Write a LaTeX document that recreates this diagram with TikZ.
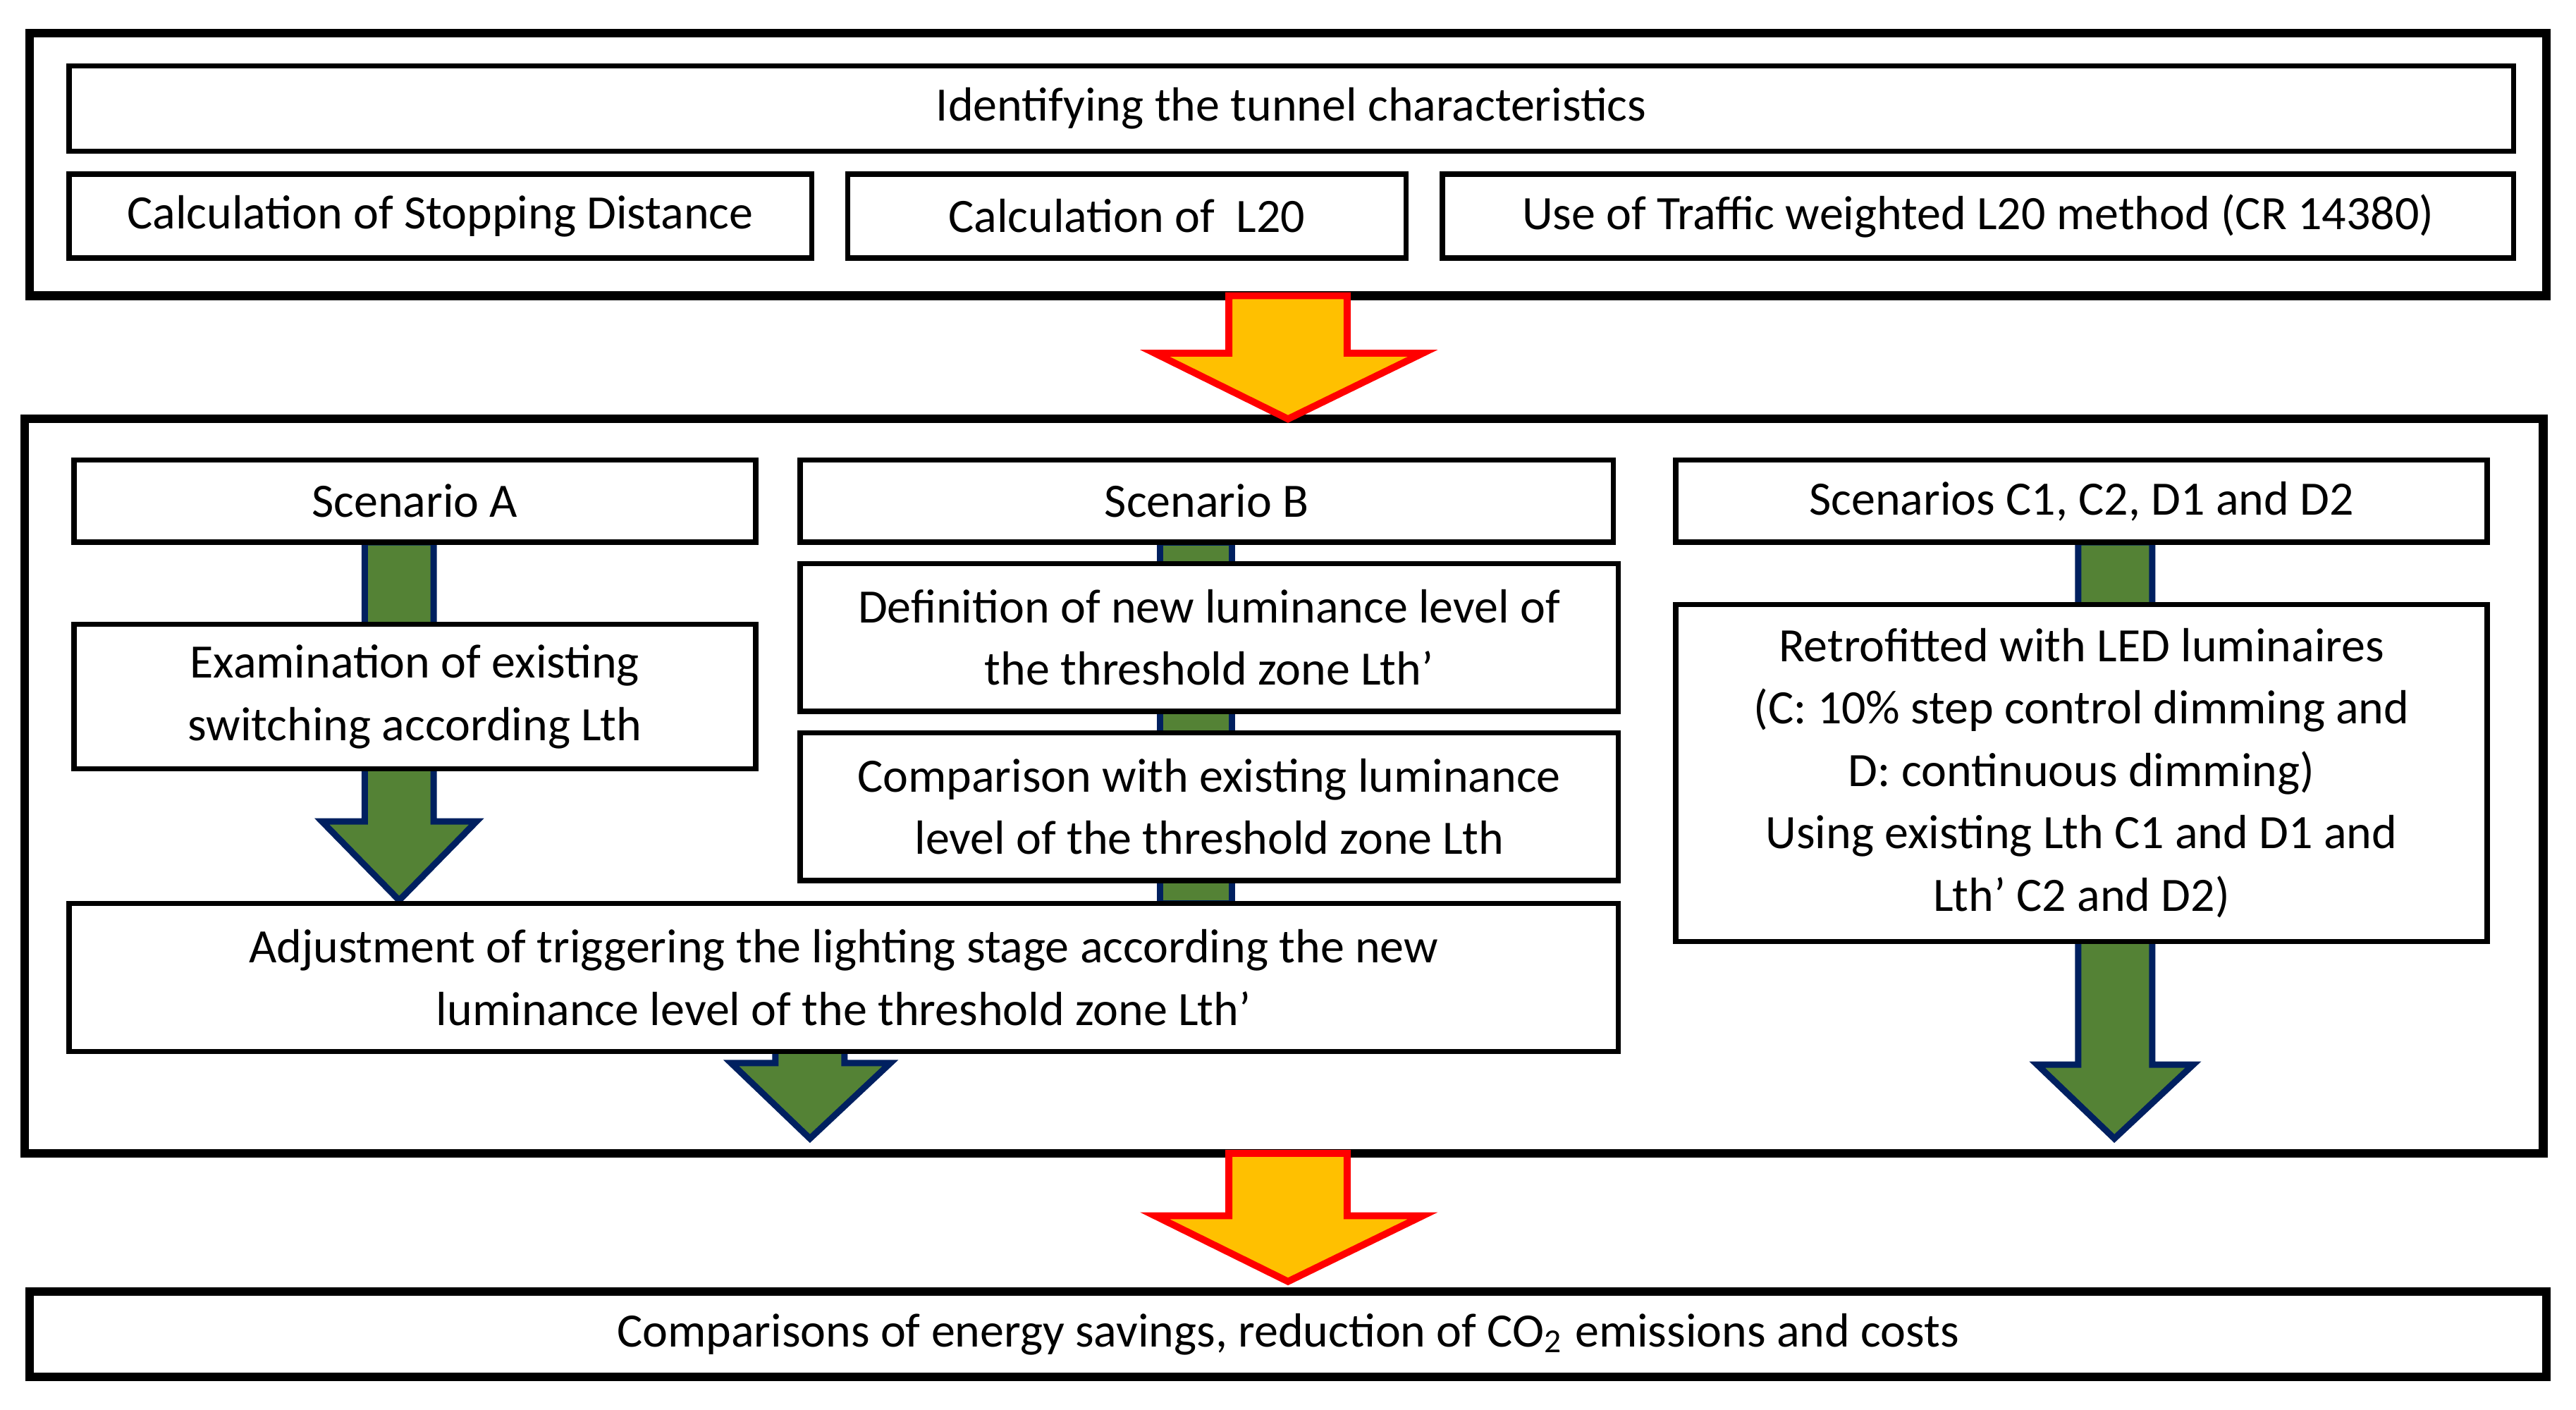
\documentclass[tikz,border=0pt]{standalone}
\usepackage{fontspec}
\setmainfont{Carlito}
\begin{document}
\begin{tikzpicture}[x=0.1mm,y=-0.1mm,
  box/.style={draw,line width=0.9pt,fill=white,align=center,inner sep=0pt,font=\fontsize{8.3}{10.8}\selectfont},
  outer/.style={draw,line width=1.5pt},
  garrow/.style={fill={rgb,255:red,84;green,130;blue,53},draw={rgb,255:red,0;green,32;blue,96},line width=1.1pt,line join=miter},
  oarrow/.style={fill={rgb,255:red,255;green,192;blue,0},draw=red,line width=1.2pt,line join=miter}]
\newcommand\myarrow[9]{% style, x1,x2,y0,y1,hx1,hx2,tx,ty
  \draw[#1] (#2,#4) -- (#3,#4) -- (#3,#5) -- (#7,#5) -- (#8,#9) -- (#6,#5) -- (#2,#5) -- cycle;}
\useasboundingbox (0,0) rectangle (1568,858);
% outer frames
\draw[outer] (18,20) rectangle (1550,180);
\draw[outer] (15,255) rectangle (1548,702);
% orange arrows
\myarrow{oarrow}{748}{820}{180}{215}{703}{866}{784}{255}
\myarrow{oarrow}{748}{820}{702}{740}{703}{866}{784}{780}
% green arrows
\myarrow{garrow}{222}{264}{330}{500}{196}{290}{243}{548}
\myarrow{garrow}{706}{750}{330}{550}{706}{750}{728}{550}
\myarrow{garrow}{472}{514}{630}{647}{445}{542}{493}{693}
\myarrow{garrow}{1265}{1310}{330}{648}{1240}{1335}{1287}{693}
% boxes
\newcommand\bx[5]{\node[box,minimum width=#3*0.1mm-#1*0.1mm,minimum height=#4*0.1mm-#2*0.1mm] (#5) at ({(#1+#3)/2},{(#2+#4)/2})}
\bx{42}{40}{1530}{92}{id} {Identifying the tunnel characteristics};
\bx{42}{106}{494}{157}{sd} {Calculation of Stopping Distance};
\bx{516}{106}{856}{157}{l20} {Calculation of \ L20};
\bx{878}{106}{1530}{157}{tw} {Use of Traffic weighted L20 method (CR 14380)};
\bx{45}{280}{460}{330}{sa} {Scenario A};
\bx{487}{280}{982}{330}{sb} {Scenario B};
\bx{1020}{280}{1514}{330}{sc} {Scenarios C1, C2, D1 and D2};
\bx{45}{380}{460}{468}{ex} {Examination of existing\\switching according Lth};
\bx{487}{343}{985}{433}{def} {Definition of new luminance level of\\the threshold zone Lth’};
\bx{487}{446}{985}{536}{cmp} {Comparison with existing luminance\\level of the threshold zone Lth};
\bx{42}{550}{985}{640}{adj} {Adjustment of triggering the lighting stage according the new\\luminance level of the threshold zone Lth’};
\bx{1020}{368}{1514}{573}{led} {Retrofitted with LED luminaires\\(C: 10\% step control dimming and\\D: continuous dimming)\\Using existing Lth C1 and D1 and\\Lth’ C2 and D2)};
\node[box,line width=1.5pt,minimum width=153.2mm,minimum height=5.2mm] (res) at (784,812) {Comparisons of energy savings, reduction of CO\textsubscript{2} emissions and costs};
\end{tikzpicture}
\end{document}
